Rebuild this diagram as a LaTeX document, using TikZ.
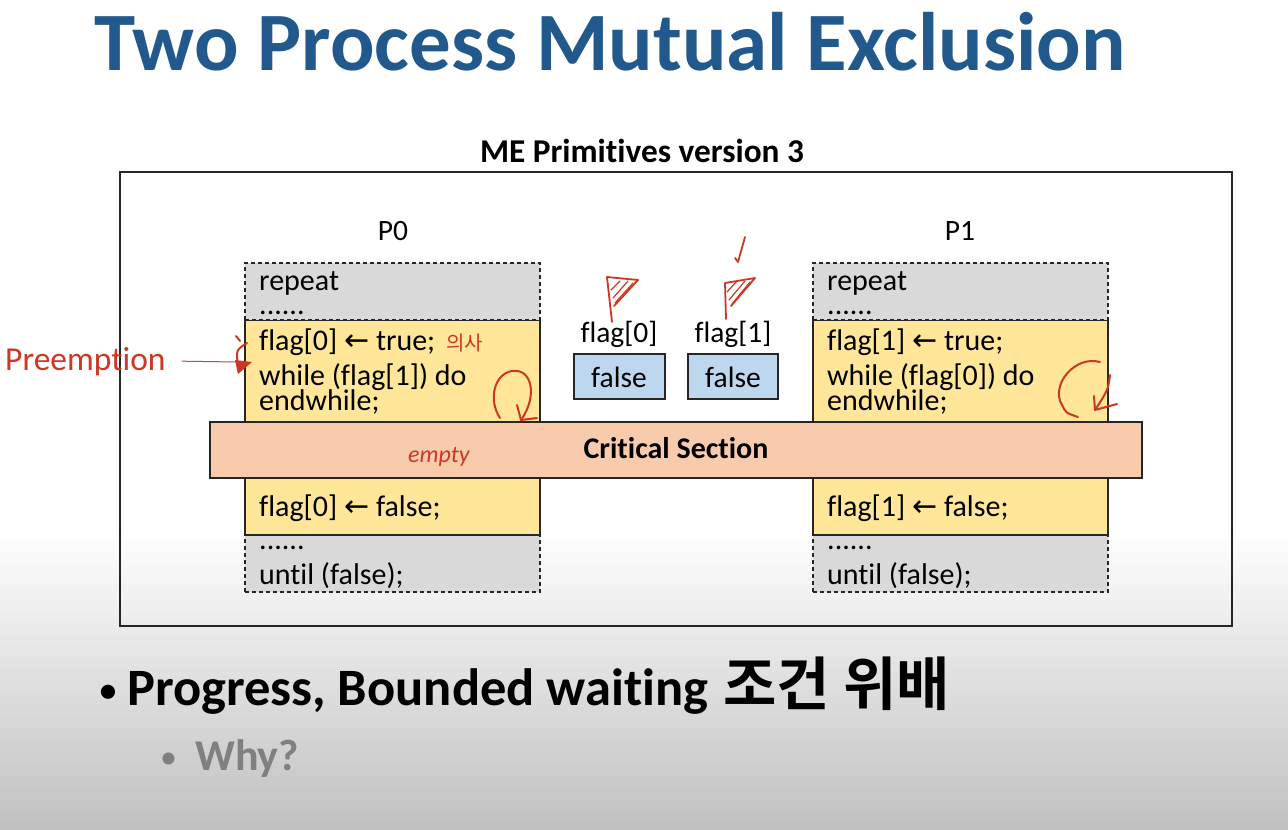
\documentclass[tikz,border=0pt]{standalone}
\usepackage{fontspec}
\setmainfont{Carlito}[Ligatures={CommonOff,ContextualOff}]
\newfontfamily\kr{Noto Sans CJK KR}[BoldFont={Noto Sans CJK KR Bold}]
\newfontfamily\sym{DejaVu Sans}
\usetikzlibrary{calc}

\definecolor{titleblue}{RGB}{34,89,140}
\definecolor{codegray}{RGB}{217,217,217}
\definecolor{codeyellow}{RGB}{255,230,153}
\definecolor{critpeach}{RGB}{248,203,173}
\definecolor{flagblue}{RGB}{189,215,238}
\definecolor{inkred}{RGB}{205,55,35}
\definecolor{subgray}{RGB}{128,128,128}
\definecolor{slidebottom}{RGB}{192,192,192}

\newcommand{\fs}[1]{\fontsize{#1}{#1}\selectfont}
\newcommand{\larr}{{\sym ←}}
% two code lines set at a fixed line pitch; the box's baseline is the first line's
\newcommand{\codepair}[3]{\vtop{\lineskiplimit=-100pt\baselineskip=#1pt\hbox{#2}\hbox{#3}}}

\tikzset{
  box/.style={draw=black!85, line width=1.2pt, inner sep=0pt, outer sep=0pt, anchor=north west},
  graybox/.style={box, fill=codegray, dash pattern=on 4pt off 3pt},
  yellowbox/.style={box, fill=codeyellow},
  critbox/.style={box, fill=critpeach},
  flagbox/.style={box, fill=flagblue},
  code/.style={anchor=base west, inner sep=0pt, font=\fs{30}},
  lbl/.style={anchor=base, inner sep=0pt, font=\fs{29.5}},
  ink/.style={draw=inkred, line width=2pt, line cap=round, line join=round},
}

\begin{document}
\begin{tikzpicture}[x=1pt,y=-1pt]
% slide background with the grey fade at the bottom
\path[use as bounding box] (0,0) rectangle (1288,830);
\fill[white] (0,0) rectangle (1288,830);
\shade[top color=white, bottom color=slidebottom] (0,530) rectangle (1288,830);

% title and heading
\node[anchor=base west, inner sep=0pt, font=\fs{83}\bfseries, text=titleblue] (title) at (94,70) {Two Process Mutual Exclusion};
\node[anchor=base, inner sep=0pt, font=\fs{33.3}\bfseries] (heading) at (642,162) {ME Primitives version 3};

% outer frame
\node[box, line width=1.3pt, minimum width=1112pt, minimum height=454pt] (frame) at (120,172) {};

% process P0
\node[graybox, minimum width=295pt, minimum height=57pt] (p0bot) at (245,535) {};
\node[yellowbox, minimum width=295pt, minimum height=215pt] (p0mid) at (245,320) {};
\node[graybox, minimum width=295pt, minimum height=57pt] (p0top) at (245,263) {};

% process P1
\node[graybox, minimum width=295pt, minimum height=57pt] (p1bot) at (813,535) {};
\node[yellowbox, minimum width=295pt, minimum height=215pt] (p1mid) at (813,320) {};
\node[graybox, minimum width=295pt, minimum height=57pt] (p1top) at (813,263) {};

% critical section bar
\node[critbox, minimum width=932pt, minimum height=56pt] (crit) at (210,422) {};
\node[anchor=base, inner sep=0pt, font=\fs{30}\bfseries] (crittext) at (676,458) {Critical Section};

% process labels
\node[lbl] (p0name) at (393,240) {P0};
\node[lbl] (p1name) at (960,240) {P1};

% P0 code
\node[code] (p0pre)   at (259,290) {\codepair{24}{repeat}{......}};
\node[code] (p0entry) at (259,350) {flag[0] \larr{} true;};
\node[code] (p0wait)  at (259,385) {\codepair{25}{while (flag[1]) do}{endwhile;}};
\node[code] (p0exit)  at (259,516) {flag[0] \larr{} false;};
\node[code] (p0post)  at (259,549) {\codepair{35}{......}{until (false);}};

% P1 code
\node[code] (p1pre)   at (827,290) {\codepair{24}{repeat}{......}};
\node[code] (p1entry) at (827,350) {flag[1] \larr{} true;};
\node[code] (p1wait)  at (827,385) {\codepair{25}{while (flag[0]) do}{endwhile;}};
\node[code] (p1exit)  at (827,516) {flag[1] \larr{} false;};
\node[code] (p1post)  at (827,549) {\codepair{35}{......}{until (false);}};

% shared flags
\node[lbl] (f0name) at (619,342) {flag[0]};
\node[lbl] (f1name) at (733,342) {flag[1]};
\node[flagbox, minimum width=91pt, minimum height=45pt] (f0box) at (574,354) {};
\node[flagbox, minimum width=90pt, minimum height=45pt] (f1box) at (688,354) {};
\node[lbl] (f0val) at (619,387) {false};
\node[lbl] (f1val) at (733,387) {false};

% preemption marker
\node[anchor=base west, inner sep=0pt, font=\fs{33.5}, text=inkred] (pre) at (5,370) {Preemption};
\coordinate (pretip) at (236,362);
\draw[draw=inkred!60!gray, line width=1pt] ([xshift=16pt]pre.east) -- (pretip);
\draw[ink] (236,336) -- (240,341);
\draw[ink] (247,343) .. controls (236,350) .. (238,366);
\fill[inkred] (235,360) -- (252,362) -- (238,374) -- cycle;

% handwritten notes
\node[anchor=base west, inner sep=0pt, font=\kr\fs{20}, text=inkred] (note1) at (446,350) {의사};
\node[anchor=base west, inner sep=0pt, font=\itshape\fs{24}, text=inkred] (note2) at (408,462) {empty};

% busy-wait loop marks
\draw[ink] (500,418) .. controls (488,400) and (494,374) .. (512,371) .. controls (532,368) and (538,396) .. (521,420);
\draw[ink] (517,405) -- (521,420) -- (537,418);
\draw[ink] (1100,362) .. controls (1075,355) and (1050,385) .. (1062,405) .. controls (1066,413) .. (1078,417);
\draw[ink] (1110,375) .. controls (1108,390) .. (1095,410);
\draw[ink] (1094,396) -- (1095,410) -- (1117,404);

% flag sketches
\draw[ink, line width=1.8pt] (612,322) -- (607,277) -- (638,280) -- (614,306);
\draw[ink, line width=1.2pt] (611,290) -- (620,281) (613,298) -- (628,281) (615,303) -- (633,283);
\draw[ink, line width=1.8pt] (726,319) -- (725,283) -- (755,278) -- (731,306);
\draw[ink, line width=1.2pt] (727,292) -- (737,281) (729,300) -- (745,281) (732,304) -- (750,282);
\draw[ink, line width=1.8pt] (745,237) -- (738,262) -- (735,258);

% bullets
\node[anchor=base west, inner sep=0pt, font=\fs{40}] (bul1) at (98,703) {•};
\node[anchor=base west, inner sep=0pt, font=\fs{52.5}\bfseries] (point1) at (127,705) {Progress, Bounded waiting\hspace{15pt}{\kr\bfseries\fs{58}조건 위배}};
\node[anchor=base west, inner sep=0pt, font=\fs{34}, text=subgray] (bul2) at (160,768) {•};
\node[anchor=base west, inner sep=0pt, font=\fs{44}\bfseries, text=subgray] (point2) at (195,770) {Why?};
\end{tikzpicture}
\end{document}
